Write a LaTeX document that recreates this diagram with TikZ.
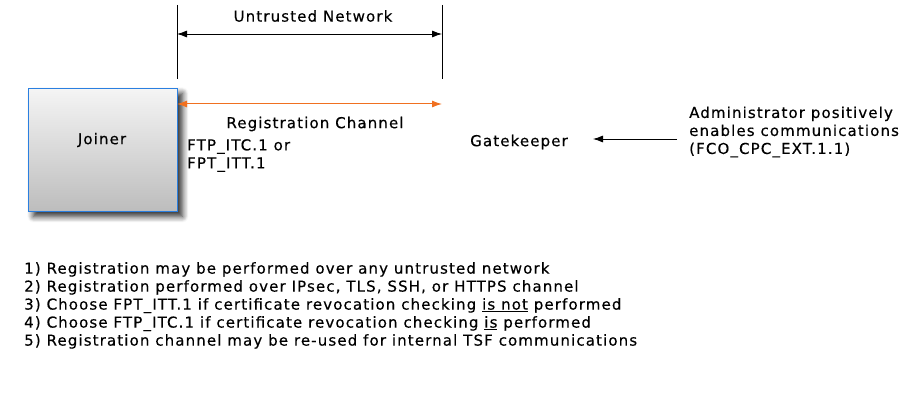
\documentclass[tikz,border=0pt]{standalone}
\usepackage{fontspec}
\setmainfont[LetterSpace=7.5,FakeBold=0.4]{DejaVu Sans}
\usetikzlibrary{arrows.meta,shadows.blur}
\definecolor{orangeline}{HTML}{F07020}
\definecolor{joinerblue}{HTML}{2A7FE0}
\tikzset{
  lbl/.style={font=\fontsize{15}{18}\selectfont, inner sep=0pt},
  tip/.style={-{Latex[length=10pt,width=7pt]}},
  dtip/.style={{Latex[length=10pt,width=7pt]}-{Latex[length=10pt,width=7pt]}},
}
\begin{document}
\begin{tikzpicture}[x=1pt,y=-1pt]
\useasboundingbox (0,0) rectangle (902,409);
% boundary lines
\coordinate (ltop) at (177,5);
\coordinate (lbot) at (177,79);
\coordinate (rtop) at (442,5);
\coordinate (rbot) at (442,79);
\draw[line width=0.8pt] (ltop) -- (lbot);
\draw[line width=0.8pt] (rtop) -- (rbot);
\coordinate (nl) at (177,34);
\coordinate (nr) at (442,34);
\draw[dtip, line width=0.8pt] (nl) -- (nr);
\node[lbl] (untrusted) at (313,16) {Untrusted Network};
% joiner
\node[draw=joinerblue, line width=0.8pt, minimum width=149pt, minimum height=123pt,
  top color=white!96!black, bottom color=black!26,
  blur shadow={shadow xshift=5pt, shadow yshift=-5pt, shadow blur radius=6pt, shadow blur steps=8, shadow opacity=85},
  lbl, anchor=north west] (joiner) at (28,88) {};
\node[lbl] (joinerlbl) at (102,140) {Joiner};
% registration channel
\coordinate (rl) at (177,104);
\coordinate (rr) at (442,104);
\draw[dtip, orangeline, line width=1pt] (rl) -- (rr);
\node[lbl] (regch) at (315,124) {Registration Channel};
\node[lbl, anchor=north west, align=left] (ftp) at (187,139) {FTP\_ITC.1 or\\FPT\_ITT.1};
% gatekeeper
\node[lbl] (gate) at (519,142) {Gatekeeper};
\node[lbl, anchor=west, align=left] (admin) at (689,132) {Administrator positively\\enables communications\\(FCO\_CPC\_EXT.1.1)};
\coordinate (adminarr) at (677,139);
\coordinate (gatearr) at (593,139);
\draw[tip, line width=0.8pt] (adminarr) -- (gatearr);
% notes
\node[lbl, anchor=north west, align=left] (notes) at (24,262) {%
1) Registration may be performed over any untrusted network\\
2) Registration performed over IPsec, TLS, SSH, or HTTPS channel\\
3) Choose FPT\_ITT.1 if certificate revocation checking \underline{is not} performed\\
4) Choose FTP\_ITC.1 if certificate revocation checking \underline{is} performed\\
5) Registration channel may be re-used for internal TSF communications};
\end{tikzpicture}
\end{document}
